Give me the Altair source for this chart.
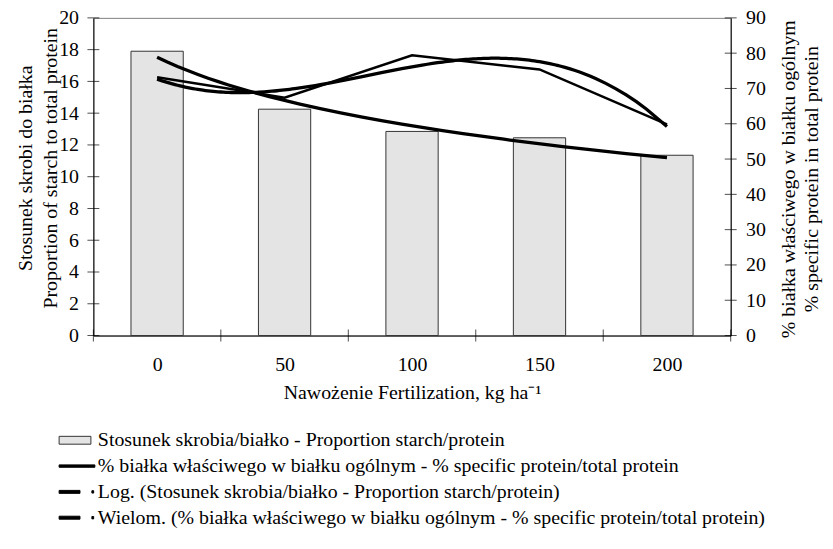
import altair as alt
import pandas as pd

# ---------------- data ----------------
categories = ["0", "50", "100", "150", "200"]
positions = [1, 2, 3, 4, 5]
starch_protein = [17.9, 14.25, 12.85, 12.45, 11.35]        # left axis (bars)
specific_protein = [73.2, 67.4, 79.4, 75.4, 59.8]          # right axis (line)
left_ticks = [0, 2, 4, 6, 8, 10, 12, 14, 16, 18, 20]
right_ticks = [0, 10, 20, 30, 40, 50, 60, 70, 80, 90]
x_boundaries = [0.5, 1.5, 2.5, 3.5, 4.5, 5.5]
legend_labels = [
    "Stosunek skrobia/białko - Proportion starch/protein",
    "% białka właściwego w białku ogólnym - % specific protein/total protein",
    "Log. (Stosunek skrobia/białko - Proportion starch/protein)",
    "Wielom. (% białka właściwego w białku ogólnym - % specific protein/total protein)",
]
left_title = ["Stosunek skrobi do białka", "Proportion of starch to total protein"]
right_title = ["% białka właściwego w białku ogólnym", "% specific protein in total protein"]
x_title = "Nawożenie Fertilization, kg ha⁻¹"

W, H = 642, 320
FONT = "Liberation Serif, Times New Roman, serif"
FS = 20

df = pd.DataFrame({"idx": positions, "cat": categories,
                   "ratio": starch_protein, "spec": specific_protein})

label_expr = "[" + ",".join("'%s'" % c for c in categories) + "][datum.value - 1]"

xscale = alt.Scale(domain=[0.5, 5.5], nice=False, zero=False)
xaxis = alt.Axis(values=positions, tickCount=len(positions) + 2,
                 labelExpr=label_expr, title=x_title,
                 labelPadding=19, titlePadding=8, orient="bottom",
                 labelOverlap=False)
lscale = alt.Scale(domain=[0, 20], nice=False, zero=True)
rscale = alt.Scale(domain=[0, 90], nice=False, zero=True)
laxis = alt.Axis(values=left_ticks, tickCount=len(left_ticks) + 2,
                 title=left_title, orient="left",
                 labelPadding=15, titleLineHeight=25, labelOverlap=False,
                 titleX=-58, titleY=151, titleAngle=270, titleBaseline="bottom")
raxis = alt.Axis(values=right_ticks, tickCount=len(right_ticks) + 2,
                 title=right_title, orient="right",
                 labelPadding=15, titleLineHeight=23, labelOverlap=False,
                 titleX=48, titleY=162, titleAngle=270, titleBaseline="top")

bars = alt.Chart(df).transform_calculate(
    x1="datum.idx - 0.205", x2="datum.idx + 0.205"
).mark_rect(fill="#e4e4e4", stroke="#333333", strokeWidth=1).encode(
    x=alt.X("x1:Q", scale=xscale, axis=xaxis),
    x2="x2:Q",
    y=alt.Y("ratio:Q", scale=lscale, axis=laxis),
    y2=alt.datum(0),
)

log_trend = alt.Chart(df).transform_regression(
    "idx", "ratio", method="log", extent=[1, 5]
).mark_line(color="black", strokeWidth=3.3).encode(
    x=alt.X("idx:Q"), y=alt.Y("ratio:Q"))

lticks = alt.Chart(pd.DataFrame({"ratio": left_ticks})).mark_tick(
    color="black", size=12, thickness=1).encode(
    y=alt.Y("ratio:Q"), x=alt.value(0))

bticks = alt.Chart(pd.DataFrame({"idx": x_boundaries})).mark_tick(
    color="black", size=12, thickness=1).encode(
    x=alt.X("idx:Q"), y=alt.value(H))

series = alt.Chart(df).mark_line(color="black", strokeWidth=2.5).encode(
    x=alt.X("idx:Q"),
    y=alt.Y("spec:Q", scale=rscale, axis=raxis))

poly_trend = alt.Chart(df).transform_regression(
    "idx", "spec", method="poly", order=3, extent=[1, 5]
).mark_line(color="black", strokeWidth=3.3).encode(
    x=alt.X("idx:Q"), y=alt.Y("spec:Q"))

rticks = alt.Chart(pd.DataFrame({"spec": right_ticks})).mark_tick(
    color="black", size=12, thickness=1).encode(
    y=alt.Y("spec:Q"), x=alt.value(W))

# legend symbols (custom paths, unit = 12 px)
paths = [
    "M-1,-0.33H1.667V0.33H-1Z",
    "M-1,-0.1H2V0.1H-1Z",
    "M-1,-0.125H0.75V0.125H-1Z M1.75,-0.1H1.9V0.1H1.75Z",
    "M-1,-0.125H0.75V0.125H-1Z M1.75,-0.1H1.9V0.1H1.75Z",
]
leg = alt.Legend(orient="none", legendX=-35, legendY=413, direction="vertical",
                 title=None, labelFont=FONT, labelFontSize=FS, labelColor="black",
                 symbolSize=576, symbolOpacity=1, symbolStrokeWidth=1,
                 labelOffset=14.5, rowPadding=3, padding=0, labelLimit=1000)
legend_layer = alt.Chart(pd.DataFrame({"name": legend_labels})).mark_point(
    opacity=0, filled=True).encode(
    x=alt.value(0), y=alt.value(0),
    shape=alt.Shape("name:N", scale=alt.Scale(domain=legend_labels, range=paths), legend=leg),
    fill=alt.Fill("name:N", scale=alt.Scale(domain=legend_labels,
                  range=["#e4e4e4", "black", "black", "black"]), legend=leg),
    stroke=alt.Stroke("name:N", scale=alt.Scale(domain=legend_labels,
                      range=["#333333", "black", "black", "black"]), legend=leg),
)

left = alt.layer(bars, log_trend, lticks, bticks)
right = alt.layer(series, poly_trend, rticks)

chart = alt.layer(left, right, legend_layer).resolve_scale(
    y="independent"
).properties(
    width=W, height=H,
    autosize=alt.AutoSizeParams(type="none"),
    padding={"left": 86, "top": 8, "right": 95, "bottom": 200},
).configure_view(
    stroke="#808080", strokeWidth=1
).configure_axis(
    labelFont=FONT, titleFont=FONT, labelFontSize=FS, titleFontSize=FS,
    labelColor="black", titleColor="black", titleFontWeight="normal",
    domainColor="black", domainWidth=1, grid=False, ticks=False, tickSize=0,
    labelOverlap=False, labelFlush=False,
)

chart.save("out.html", embed_options={"renderer": "svg", "actions": False})
